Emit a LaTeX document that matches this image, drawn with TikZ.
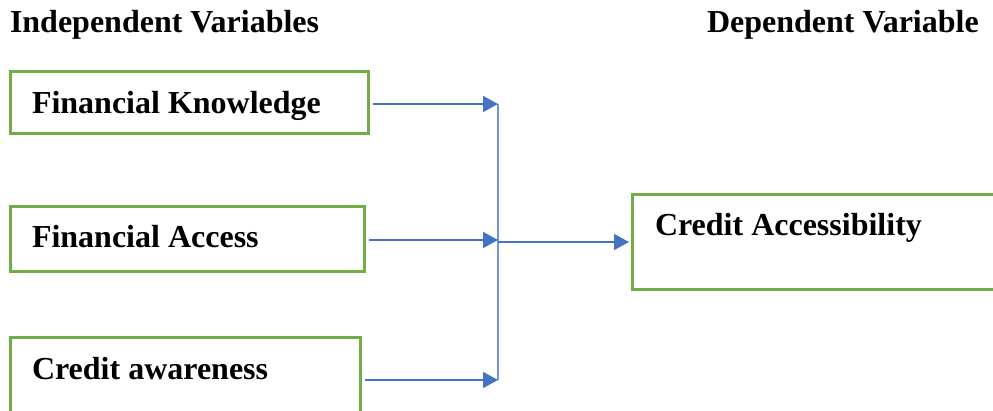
\documentclass[tikz,border=0pt]{standalone}
\usepackage{fontspec}
\setmainfont{Liberation Serif}
\usetikzlibrary{arrows.meta}
\definecolor{boxgreen}{HTML}{70AD47}
\definecolor{flowblue}{HTML}{4472C4}
\definecolor{busblue}{HTML}{6F94D8}

\begin{document}
\begin{tikzpicture}[x=1pt, y=1pt,
	every node/.style={inner sep=0pt, outer sep=0pt},
	varbox/.style={draw=boxgreen, line width=3pt, rectangle},
	varname/.style={anchor=base west, font=\fontsize{32}{38}\selectfont\bfseries},
	flow/.style={draw=flowblue, line width=1.4pt, -{Triangle[length=15pt,width=16pt]}},
	bus/.style={draw=busblue, line width=2pt}]
	\useasboundingbox (0,0) rectangle (993,411);
	% headings
	\node[varname] (hin) at (10,378)  {Independent Variables};
	\node[varname] (hdep) at (707,378) {Dependent Variable};
	% boxes
	\node[varbox, minimum width=358pt, minimum height=62pt] (kn) at (189,308)   {};
	\node[varbox, minimum width=354pt, minimum height=65pt] (ac) at (187,171.5) {};
	\node[varbox, minimum width=350pt, minimum height=92pt] (aw) at (185,27)    {};
	\node[varbox, minimum width=378pt, minimum height=95pt] (ca) at (821,168.5) {};
	\node[varname] (tkn) at (32,297)  {Financial Knowledge};
	\node[varname] (tac) at (32,163)  {Financial Access};
	\node[varname] (taw) at (32,31)   {Credit awareness};
	\node[varname] (tca) at (655,175) {Credit Accessibility};
	% junction points
	\coordinate (j1) at (498,307);
	\coordinate (j2) at (498,171);
	\coordinate (j3) at (498,31);
	\coordinate (jm) at (498,169);
	\draw[bus] (j1) -- (j3);
	\foreach \from/\to in {kn/j1, ac/j2, aw/j3}
	\draw[flow] ([xshift=5pt]\from.east |- \to) -- (\to);
	\draw[flow] (jm) -- ([xshift=-3pt]ca.west |- jm);
\end{tikzpicture}
\end{document}
